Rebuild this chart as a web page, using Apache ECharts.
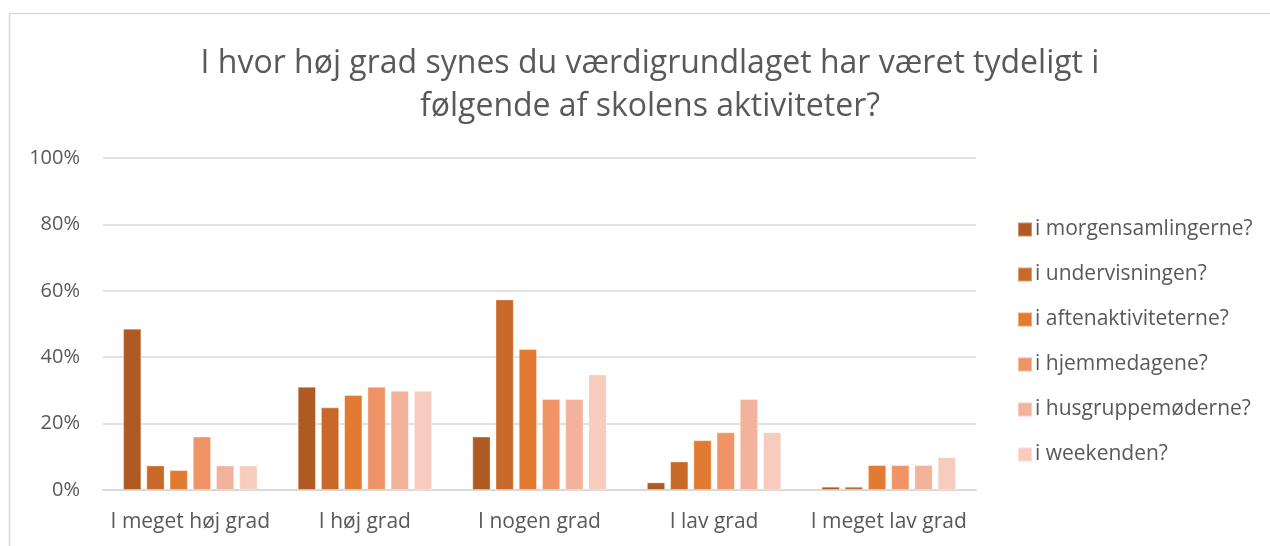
<!DOCTYPE html>
<html>
<head>
<meta charset="utf-8">
<script src="https://cdn.jsdelivr.net/npm/echarts@6/dist/echarts.min.js"></script>
<style>
html,body{margin:0;padding:0;background:#fff;}
#chart{width:1270px;height:546px;}
</style>
</head>
<body>
<div id="chart"></div>
<script>
const categories = ['I meget høj grad', 'I høj grad', 'I nogen grad', 'I lav grad', 'I meget lav grad'];
const seriesNames = ['i morgensamlingerne?', 'i undervisningen?', 'i aftenaktiviteterne?', 'i hjemmedagene?', 'i husgruppemøderne?', 'i weekenden?'];
const morgensamlingerne = [48.6, 31.1, 16.1, 2.3, 1.0];
const undervisningen   = [7.4, 24.9, 57.4, 8.6, 1.0];
const aftenaktiviteterne = [6.0, 28.6, 42.5, 15.0, 7.5];
const hjemmedagene     = [16.1, 31.1, 27.4, 17.4, 7.5];
const husgruppemoderne = [7.4, 29.9, 27.4, 27.4, 7.5];
const weekenden        = [7.4, 29.9, 34.8, 17.4, 9.9];
const seriesValues = [morgensamlingerne, undervisningen, aftenaktiviteterne, hjemmedagene, husgruppemoderne, weekenden];
const colors = ['#AF5A22', '#C8692A', '#E27A31', '#F09468', '#F3B29B', '#F7CBBE'];

const font = '"Open Sans", "Noto Sans", sans-serif';
const chart = echarts.init(document.getElementById('chart'));
chart.setOption({
  animation: false,
  backgroundColor: '#fff',
  color: colors,
  graphic: [{
    type: 'rect',
    shape: {x: 9.5, y: 13.5, width: 1400, height: 700},
    style: {fill: 'none', stroke: '#D9D9D9', lineWidth: 1.5},
    silent: true
  }],
  title: {
    text: 'I hvor høj grad synes du værdigrundlaget har været tydeligt i\nfølgende af skolens aktiviteter?',
    left: 645,
    textAlign: 'center',
    top: 37,
    textStyle: {fontFamily: font, fontSize: 32, fontWeight: 'normal', color: '#595959', lineHeight: 43}
  },
  legend: {
    orient: 'vertical',
    left: 1012,
    top: 214,
    itemGap: 24,
    itemWidth: 14,
    itemHeight: 14,
    icon: 'rect',
    textStyle: {fontFamily: font, fontSize: 21, color: '#595959', padding: [0,0,0,-2]},
    data: seriesNames
  },
  grid: {left: 103, right: 294, top: 158, bottom: 56, containLabel: false},
  xAxis: {
    type: 'category',
    data: categories,
    axisLine: {lineStyle: {color: '#D9D9D9', width: 2}},
    axisTick: {show: false},
    axisLabel: {fontFamily: font, fontSize: 21, color: '#595959', margin: 22, interval: 0}
  },
  yAxis: {
    type: 'value',
    min: 0, max: 100, interval: 20,
    axisLine: {show: false},
    axisTick: {show: false},
    axisLabel: {formatter: '{value}%', fontFamily: font, fontSize: 20, color: '#595959', margin: 23},
    splitLine: {lineStyle: {color: '#D9D9D9', width: 1.5}}
  },
  series: seriesNames.map((name, i) => ({
    name: name,
    type: 'bar',
    data: seriesValues[i],
    barGap: '27%',
    barCategoryGap: '23%',
    itemStyle: {color: colors[i], borderColor: 'rgba(255,255,255,0.35)', borderWidth: 1}
  }))
});
</script>
</body>
</html>
